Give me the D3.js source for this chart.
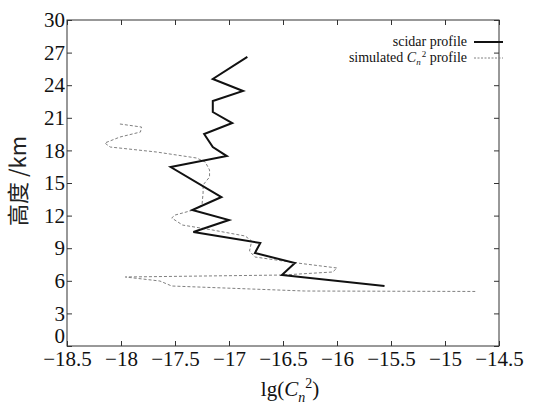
<!DOCTYPE html>
<html><head><meta charset="utf-8">
<script src="https://cdn.jsdelivr.net/npm/d3@7"></script>
<style>body{margin:0;background:#fff}svg{display:block}</style>
</head><body>
<svg id="c" width="550" height="408"></svg>
<script>
const xTicks = [-18.5, -18, -17.5, -17, -16.5, -16, -15.5, -15, -14.5];
const yTicks = [0, 3, 6, 9, 12, 15, 18, 21, 24, 27, 30];

// scidar profile (solid)
const scidarX = [-16.83, -17.15, -16.87, -17.15, -17.15, -16.97, -17.23, -17.15, -17.02, -17.54, -17.07, -17.34, -17.00, -17.33, -16.71, -16.76, -16.39, -16.51, -15.56];
const scidarH = [26.6, 24.57, 23.47, 22.55, 21.53, 20.52, 19.51, 18.31, 17.48, 16.47, 13.71, 12.51, 11.59, 10.49, 9.48, 8.56, 7.64, 6.53, 5.52];

// simulated Cn2 profile (dashed)
const simX = [-18.01, -17.81, -17.82, -18.01, -18.15, -18.10, -17.67, -17.30, -17.22, -17.18, -17.18, -17.24, -17.24, -17.25, -17.33, -17.50, -17.53, -17.43, -17.15, -16.85, -16.79, -16.81, -16.76, -16.37, -16.00, -16.04, -16.51, -17.96, -17.64, -17.53, -16.81, -16.30, -14.72];
const simH = [20.43, 20.15, 19.69, 19.23, 18.68, 18.31, 17.85, 17.30, 16.93, 16.20, 15.55, 14.82, 14.08, 12.98, 12.51, 12.05, 11.78, 11.13, 10.67, 10.12, 9.66, 8.74, 8.19, 7.64, 7.18, 6.81, 6.53, 6.35, 5.98, 5.52, 5.25, 5.06, 5.02];

const svg = d3.select("#c");
const L = 67, R = 499, T = 20, B = 346;
const x = d3.scaleLinear().domain([-18.5, -14.5]).range([L, R]);
const y = d3.scaleLinear().domain([0, 30]).range([B, T]);
const SERIF = '"Liberation Serif", "Times New Roman", Times, serif';
const fmt = d => String(d).replace("-", "\u2212");

// frame
svg.append("rect").attr("x", L).attr("y", T).attr("width", R - L).attr("height", B - T)
  .attr("fill", "none").attr("stroke", "#333").attr("stroke-width", 1);

// bottom axis
const gx = svg.append("g").attr("transform", `translate(0,${B})`)
  .call(d3.axisBottom(x).tickValues(xTicks).tickFormat(fmt).tickSizeInner(-5).tickSizeOuter(0).tickPadding(5));
gx.select(".domain").remove();
gx.selectAll("line").attr("stroke", "#333");
gx.selectAll("text").style("font-family", SERIF).style("font-size", "21px").attr("fill", "#111");
// top ticks
const gt = svg.append("g").attr("transform", `translate(0,${T})`)
  .call(d3.axisTop(x).tickValues(xTicks).tickFormat("").tickSizeInner(-5).tickSizeOuter(0));
gt.select(".domain").remove();
gt.selectAll("line").attr("stroke", "#333");

// left axis
const gy = svg.append("g").attr("transform", `translate(${L},0)`)
  .call(d3.axisLeft(y).tickValues(yTicks).tickFormat(fmt).tickSizeInner(-5).tickSizeOuter(0).tickPadding(2));
gy.select(".domain").remove();
gy.selectAll("line").attr("stroke", "#333");
gy.selectAll("text").style("font-family", SERIF).style("font-size", "21px").attr("fill", "#111");
gy.selectAll(".tick").filter(d => d === 0).select("text").attr("dy", "-0.15em");
// right ticks
const gr = svg.append("g").attr("transform", `translate(${R},0)`)
  .call(d3.axisRight(y).tickValues(yTicks).tickFormat("").tickSizeInner(-5).tickSizeOuter(0));
gr.select(".domain").remove();
gr.selectAll("line").attr("stroke", "#333");

// lines
const simData = simX.map((v, i) => [v, simH[i]]);
const scidarData = scidarX.map((v, i) => [v, scidarH[i]]);
const line = d3.line().x(d => x(d[0])).y(d => y(d[1]));
svg.append("path").datum(simData).attr("d", line).attr("fill", "none")
  .attr("stroke", "#808080").attr("stroke-width", 1).attr("stroke-dasharray", "3,2");
svg.append("path").datum(scidarData).attr("d", line).attr("fill", "none")
  .attr("stroke", "#111").attr("stroke-width", 2).attr("stroke-linejoin", "miter");

// legend
const lg = svg.append("g").style("font-family", SERIF).style("font-size", "14px").attr("fill", "#111");
lg.append("text").attr("x", 467).attr("y", 46).attr("text-anchor", "end").text("scidar profile");
lg.append("line").attr("x1", 474).attr("x2", 503).attr("y1", 42).attr("y2", 42).attr("stroke", "#111").attr("stroke-width", 2);
const t2 = lg.append("text").attr("x", 467).attr("y", 62).attr("text-anchor", "end");
t2.append("tspan").text("simulated ");
t2.append("tspan").attr("font-style", "italic").text("C");
t2.append("tspan").attr("font-style", "italic").style("font-size", "9px").attr("dy", 3).text("n");
t2.append("tspan").style("font-size", "9px").attr("dy", -8).attr("dx", 1).text("2");
t2.append("tspan").attr("dy", 5).text(" profile");
lg.append("line").attr("x1", 474).attr("x2", 503).attr("y1", 58).attr("y2", 58).attr("stroke", "#808080").attr("stroke-width", 1).attr("stroke-dasharray", "2,1.5");

// x title
const xt = svg.append("text").attr("x", 290).attr("y", 396).attr("text-anchor", "middle")
  .style("font-family", SERIF).style("font-size", "21px").attr("fill", "#111");
xt.append("tspan").text("lg(");
xt.append("tspan").attr("font-style", "italic").text("C");
xt.append("tspan").attr("font-style", "italic").style("font-size", "14px").attr("dy", 6).text("n");
xt.append("tspan").style("font-size", "14px").attr("dy", -14).text("2");
xt.append("tspan").attr("dy", 8).text(")");

// y title
svg.append("text").attr("transform", "translate(26,181) rotate(-90)").attr("text-anchor", "middle")
  .style("font-family", '"Noto Sans CJK SC", sans-serif').style("font-size", "22px").attr("fill", "#222")
  .text("高度 /km");
</script>
</body></html>
